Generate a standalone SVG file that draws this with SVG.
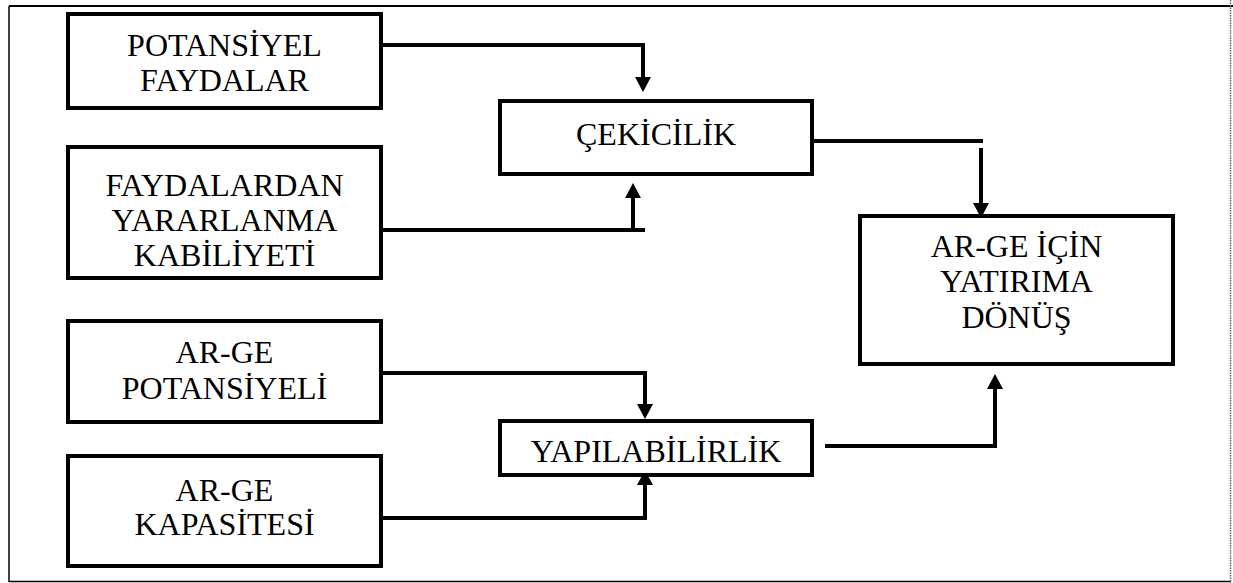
<svg xmlns="http://www.w3.org/2000/svg" width="1233" height="583" viewBox="0 0 1233 583">
<style>
.box{fill:#fff;stroke:#000;stroke-width:4}
.t{font-family:"Liberation Serif","Times New Roman",serif;font-size:32px;fill:#000;text-anchor:middle}
.c{fill:none;stroke:#000;stroke-width:4}
.ca{fill:none;stroke:#000;stroke-width:4;marker-end:url(#ah)}
</style>
<defs>
<marker id="ah" markerUnits="userSpaceOnUse" markerWidth="16" markerHeight="16" viewBox="0 0 15 16" refX="0" refY="8" orient="auto">
<path d="M0 0 L15 8 L0 16 z" fill="#000"/>
</marker>
</defs>
<rect width="1233" height="583" fill="#fff"/>
<g id="frame">
<line x1="9" y1="6" x2="1233" y2="6" stroke="#000" stroke-width="2"/>
<line x1="9" y1="6" x2="9" y2="582" stroke="#000" stroke-width="1.5"/>
<line x1="9" y1="581.5" x2="1231" y2="581.5" stroke="#000" stroke-width="1.5"/>
<line x1="1230.5" y1="0" x2="1230.5" y2="583" stroke="#666" stroke-width="1.5" stroke-dasharray="1.5 1"/>
</g>
<g id="connectors">
<path class="ca" d="M383 45 H643 V77"/>
<path class="c" d="M383 230 H645"/>
<path class="ca" d="M633 230 V198"/>
<path class="c" d="M814 141 H983"/>
<path class="ca" d="M981 148 V203"/>
<path class="ca" d="M383 373 H645 V404"/>
<path class="ca" d="M383 518 H645 V485"/>
<path class="ca" d="M825 446 H995 V389"/>
</g>
<g id="potansiyel-faydalar">
<rect class="box" x="68" y="14" width="313" height="94"/>
<text class="t" x="224.5" y="56">POTANSİYEL</text>
<text class="t" x="224.5" y="91">FAYDALAR</text>
</g>
<g id="faydalardan">
<rect class="box" x="68" y="147" width="313" height="131"/>
<text class="t" x="224.5" y="196">FAYDALARDAN</text>
<text class="t" x="224.5" y="231">YARARLANMA</text>
<text class="t" x="224.5" y="266">KABİLİYETİ</text>
</g>
<g id="arge-potansiyeli">
<rect class="box" x="68" y="321" width="313" height="101"/>
<text class="t" x="224.5" y="363">AR-GE</text>
<text class="t" x="224.5" y="399">POTANSİYELİ</text>
</g>
<g id="arge-kapasitesi">
<rect class="box" x="68" y="456" width="313" height="110"/>
<text class="t" x="224.5" y="501">AR-GE</text>
<text class="t" x="224.5" y="535">KAPASİTESİ</text>
</g>
<g id="cekicilik">
<rect class="box" x="500" y="101" width="312" height="73"/>
<text class="t" x="656" y="145">ÇEKİCİLİK</text>
</g>
<g id="yapilabilirlik">
<rect class="box" x="500" y="421" width="312" height="54"/>
<text class="t" x="656" y="462">YAPILABİLİRLİK</text>
</g>
<g id="arge-yatirim">
<rect class="box" x="860" y="216" width="313" height="148"/>
<text class="t" x="1016.5" y="257">AR-GE İÇİN</text>
<text class="t" x="1016.5" y="292">YATIRIMA</text>
<text class="t" x="1016.5" y="328">DÖNÜŞ</text>
</g>
</svg>
